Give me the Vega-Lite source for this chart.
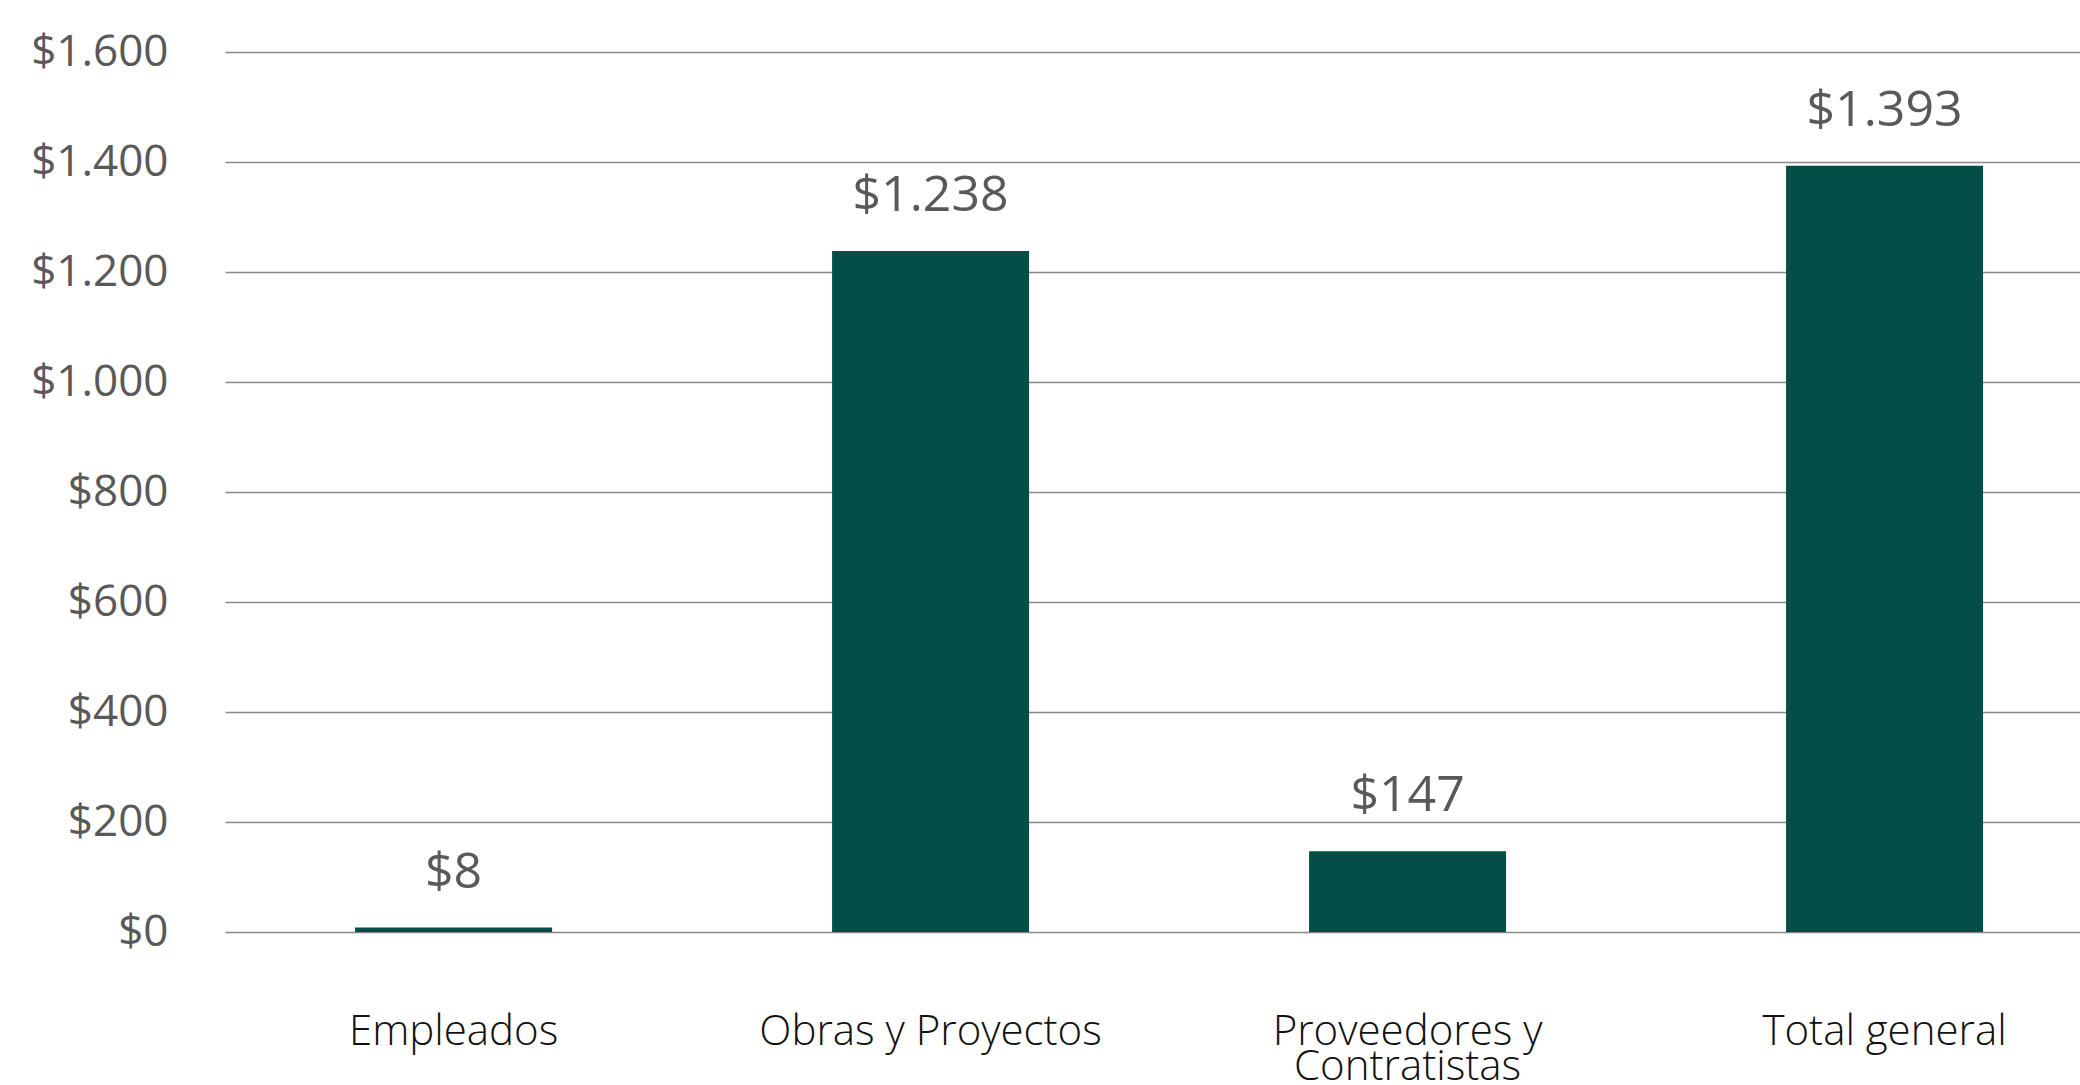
{
  "$schema": "https://vega.github.io/schema/vega-lite/v6.json",
  "autosize": {"type": "none"},
  "width": 1855,
  "height": 880,
  "padding": {"left": 225, "top": 52, "right": 0, "bottom": 153},
  "background": "#ffffff",
  "config": {
    "view": {"stroke": null},
    "locale": {"number": {"decimal": ",", "thousands": ".", "grouping": [3], "currency": ["$", ""]}}
  },
  "data": {
    "values": [
      {"categoria": "Empleados", "valor": 8},
      {"categoria": "Obras y Proyectos", "valor": 1238},
      {"categoria": "Proveedores y Contratistas", "valor": 147},
      {"categoria": "Total general", "valor": 1393}
    ]
  },
  "encoding": {
    "x": {
      "field": "categoria",
      "type": "nominal",
      "sort": null,
      "scale": {"paddingInner": 0.587, "paddingOuter": 0.238, "align": 0.573},
      "axis": {
        "title": null,
        "domain": false,
        "ticks": false,
        "labelAngle": 0,
        "labelFont": "Open Sans",
        "labelFontWeight": 300,
        "labelFontSize": 42,
        "labelColor": "#111111",
        "labelLimit": 0,
        "labelPadding": 79,
        "labelBaseline": "top",
        "labelLineHeight": 35,
        "labelExpr": "datum.value == 'Proveedores y Contratistas' ? ['Proveedores y', 'Contratistas'] : datum.value"
      }
    },
    "y": {
      "field": "valor",
      "type": "quantitative",
      "scale": {"domain": [0, 1600], "nice": false},
      "axis": {
        "title": null,
        "domain": false,
        "ticks": false,
        "values": [0, 200, 400, 600, 800, 1000, 1200, 1400, 1600],
        "format": "$,.0f",
        "labelFont": "Open Sans",
        "labelFontSize": 44,
        "labelColor": "#595959",
        "labelPadding": 57,
        "labelBaseline": "middle",
        "grid": true,
        "gridColor": "#888888",
        "gridWidth": 1.6
      }
    }
  },
  "layer": [
    {"mark": {"type": "bar", "color": "#034f47"}},
    {
      "mark": {
        "type": "text",
        "baseline": "alphabetic",
        "dy": -40,
        "font": "Open Sans",
        "fontSize": 50,
        "color": "#595959"
      },
      "encoding": {"text": {"field": "valor", "type": "quantitative", "format": "$,.0f"}}
    }
  ]
}
